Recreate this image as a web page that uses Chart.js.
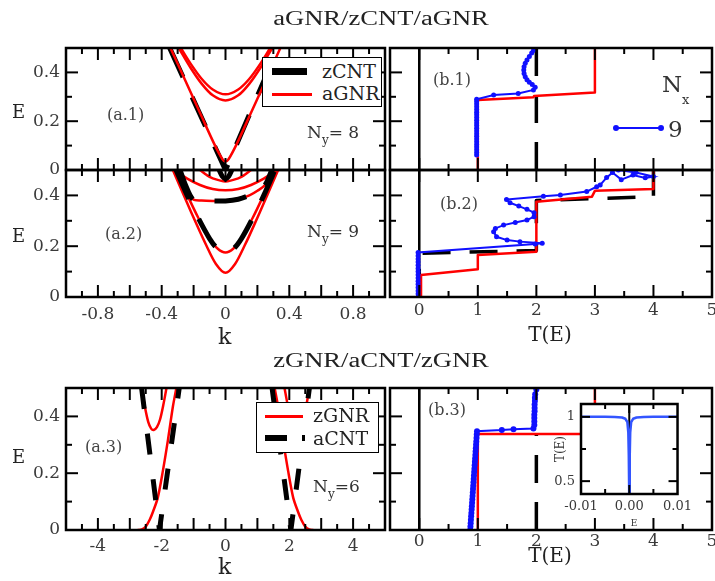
<!DOCTYPE html>
<html><head><meta charset="utf-8">
<script src="https://cdn.jsdelivr.net/npm/chart.js@4/dist/chart.umd.min.js"></script>
<style>
html,body{margin:0;padding:0;background:#fff;}
#page{position:relative;width:715px;height:581px;overflow:hidden;background:#fff;}
canvas{position:absolute;}
.t{position:absolute;white-space:nowrap;line-height:1;color:#222;font-family:'DejaVu Serif',serif;}
.box{position:absolute;box-sizing:border-box;border:1.5px solid #000;background:#fff;}
.sw{position:absolute;}
</style></head><body><div id="page"></div>
<script>
// ================= DATA =================
const kLabelsTop = ['-0.8','-0.4','0','0.4','0.8'];
const kLabelsBot = ['-4','-2','0','2','4'];
const tLabels = ['0','1','2','3','4','5'];
const eLabels = ['0','0.2','0.4'];
const insetELabels = ['-0.01','0.00','0.01'];
const insetTLabels = ['0.5','1'];

// (a.1) Ny = 8
const a1_zcnt_k = [-0.35, 0, 0.33];
const a1_zcnt_E = [0.5, 0, 0.5];
const a1_agnr1_k = [-0.345,-0.25,-0.15,-0.07,-0.02,0,0.02,0.07,0.15,0.25,0.344];
const a1_agnr1_E = [0.5,0.364,0.22,0.106,0.045,0.035,0.045,0.106,0.22,0.364,0.5];
const a1_agnr2_k = [-0.28,-0.22,-0.15,-0.08,0,0.08,0.15,0.22,0.28];
const a1_agnr2_E = [0.5,0.437,0.374,0.33,0.31,0.33,0.374,0.437,0.5];
const a1_agnr3_k = [-0.293,-0.22,-0.15,-0.08,0,0.08,0.15,0.22,0.293];
const a1_agnr3_E = [0.5,0.42,0.354,0.306,0.285,0.306,0.354,0.42,0.5];

// (a.2) Ny = 9
const a2_agnr1_k = [-0.33,-0.25,-0.18,-0.12,-0.06,0,0.06,0.12,0.18,0.25,0.33];
const a2_agnr1_E = [0.5,0.384,0.284,0.2025,0.13,0.095,0.13,0.2025,0.284,0.384,0.5];
const a2_agnr2_k = [-0.31,-0.24,-0.17,-0.1,-0.05,0,0.05,0.1,0.17,0.24,0.31];
const a2_agnr2_E = [0.5,0.402,0.311,0.231,0.191,0.175,0.191,0.231,0.311,0.402,0.5];
const a2_agnr3_k = [-0.285,-0.25,-0.205,-0.15,-0.08,0,0.08,0.15,0.2,0.25,0.29];
const a2_agnr3_E = [0.5,0.44,0.385,0.38,0.378,0.378,0.385,0.4,0.418,0.443,0.5];
const a2_agnr4_k = [-0.32,-0.24,-0.16,-0.08,0,0.08,0.16,0.24,0.32];
const a2_agnr4_E = [0.5,0.466,0.441,0.425,0.42,0.425,0.441,0.466,0.5];
const a2_agnr5_k = [-0.16,-0.12,-0.08,0,0.08,0.12,0.16];
const a2_agnr5_E = [0.5,0.481,0.467,0.455,0.467,0.481,0.5];
const a2_zcnt1_k = [-0.31,-0.24,-0.17,-0.1,-0.05,0,0.05,0.1,0.17,0.24,0.31];
const a2_zcnt1_E = [0.5,0.4,0.31,0.23,0.19,0.178,0.19,0.23,0.31,0.4,0.5];
const a2_zcnt2_k = [-0.285,-0.25,-0.205,-0.15,-0.08,0,0.08,0.15,0.2,0.25,0.29];
const a2_zcnt2_E = [0.5,0.44,0.385,0.38,0.378,0.378,0.385,0.4,0.418,0.443,0.5];
const a2_zcnt3_k = [-0.04,-0.02,0,0.02,0.04];
const a2_zcnt3_E = [0.5,0.475,0.465,0.475,0.5];

// (a.3) Ny = 6
const a3_acntL_k = [-2.63,-2.07,-1.45];
const a3_acntL_E = [0.5,0,0.5];
const a3_acntR_k = [1.46,2.05,2.63];
const a3_acntR_E = [0.5,0,0.5];
const a3_zgnrLlow_k = [-2.75,-2.62,-2.5,-2.38,-2.27,-2.12,-1.96,-1.8,-1.65,-1.54];
const a3_zgnrLlow_E = [0,0.002,0.012,0.035,0.065,0.115,0.21,0.32,0.434,0.5];
const a3_zgnrLup_k = [-2.63,-2.52,-2.42,-2.33,-2.25,-2.15,-2.05,-1.95,-1.85];
const a3_zgnrLup_E = [0.5,0.43,0.38,0.357,0.352,0.362,0.39,0.44,0.5];
const a3_zgnrRlow_k = [2.75,2.62,2.5,2.38,2.27,2.12,1.96,1.8,1.65,1.54];
const a3_zgnrRlow_E = [0,0.002,0.012,0.035,0.065,0.115,0.21,0.32,0.434,0.5];
const a3_zgnrRup_k = [2.63,2.52,2.42,2.33,2.25,2.15,2.05,1.95,1.85];
const a3_zgnrRup_E = [0.5,0.43,0.38,0.357,0.352,0.362,0.39,0.44,0.5];

// (b.1) Nx = 9
const b1_red_T = [1,1,1.95,1.96,3,3];
const b1_red_E = [0,0.287,0.298,0.303,0.318,0.5];
const b1_blk_T = [2,2];
const b1_blk_E = [0,0.5];
const b1_blue_T = [0.98,0.98,0.98,0.98,0.98,0.98,0.98,0.98,0.98,0.98,0.98,0.98,0.98,0.98,0.98,0.98,0.98,0.98,0.98,0.98,0.98,0.98,
  1.27,1.69,1.95,1.98,1.93,1.88,1.84,1.81,1.79,1.785,1.79,1.81,1.84,1.88,1.92,1.95,1.97];
const b1_blue_E = [0.061,0.072,0.083,0.094,0.105,0.116,0.127,0.138,0.149,0.16,0.171,0.182,0.193,0.204,0.215,0.226,0.237,0.248,0.259,0.27,0.281,0.29,
  0.307,0.314,0.328,0.339,0.35,0.36,0.37,0.382,0.395,0.41,0.423,0.437,0.451,0.465,0.479,0.49,0.5];

// (b.2)
const b2_red_T = [0.03,0.03,1,1,2,2,2.95,3.0,4,4];
const b2_red_E = [0,0.087,0.109,0.165,0.178,0.375,0.395,0.418,0.425,0.5];
const b2_blk_T = [0,0,2,2,4,4];
const b2_blk_E = [0,0.172,0.183,0.38,0.395,0.5];
const b2_blue_T = [-0.02,-0.02,-0.02,-0.02,-0.02,-0.02,-0.02,-0.02,-0.02,-0.02,-0.02,-0.02,-0.02,-0.02,-0.02,
  1.98,2.1,1.72,1.5,1.32,1.27,1.3,1.44,1.64,1.84,1.96,1.96,1.84,1.7,1.55,1.49,2.12,2.41,2.86,3.03,3.09,3.2,3.3,3.45,3.65,3.86,4.0,3.7,3.4];
const b2_blue_E = [0,0.0125,0.025,0.0375,0.05,0.0625,0.075,0.0875,0.1,0.1125,0.125,0.1375,0.15,0.1625,0.175,
  0.209,0.212,0.218,0.224,0.237,0.257,0.27,0.283,0.293,0.303,0.316,0.332,0.345,0.358,0.371,0.384,0.397,0.402,0.415,0.434,0.441,0.47,0.49,0.462,0.48,0.469,0.474,0.49,0.5];

// (b.3)
const b3_red_T = [1,1,3,3];
const b3_red_E = [0,0.338,0.338,0.5];
const b3_blk_T = [2,2];
const b3_blk_E = [0,0.335];
const b3_blue_T = [0.87,0.874,0.878,0.882,0.886,0.89,0.894,0.898,0.902,0.906,0.91,0.914,0.918,0.922,0.926,0.93,0.934,0.938,0.942,0.946,0.95,0.954,0.958,0.962,0.966,0.97,0.974,0.978,0.982,0.986,
  1.41,1.61,1.95,1.965,1.965,1.965,1.965,1.97,1.97,1.97,1.975,1.975,1.98,2.0,2.08];
const b3_blue_E = [0,0.012,0.024,0.036,0.048,0.06,0.072,0.084,0.096,0.108,0.12,0.132,0.144,0.156,0.168,0.18,0.192,0.204,0.216,0.228,0.24,0.252,0.264,0.276,0.288,0.3,0.312,0.324,0.336,0.348,
  0.352,0.355,0.357,0.37,0.382,0.394,0.406,0.418,0.43,0.442,0.454,0.466,0.478,0.495,0.51];

// inset of (b.3)
const in_E = [-0.01,-0.005,-0.003,-0.0015,-0.0008,-0.0004,-0.0002,-0.0001,0,0.0001,0.0002,0.0004,0.0008,0.0015,0.003,0.005,0.01];
const in_T = [1.0,1.0,0.999,0.995,0.985,0.96,0.88,0.7,0.35,0.7,0.88,0.96,0.985,0.995,0.999,1.0,1.0];

// ================= DRAWING =================
const page = document.getElementById('page');
const SERIF = "'DejaVu Serif', serif";
const RED = '#ff0000', BLUE = '#1010ff', BLACK = '#000000';

function pts(xs, ys){ return xs.map((x,i)=>({x:x, y:ys[i]})); }
function curve(xs, ys, color, w, dash, tension){
  return {data:pts(xs,ys), showLine:true, borderColor:color, backgroundColor:color, borderWidth:w,
    borderDash:dash||[], pointRadius:0, tension:tension||0, clip:0, fill:false, borderJoinStyle:'round'};
}
function marked(xs, ys, color, w, r){
  return {data:pts(xs,ys), showLine:true, borderColor:color, backgroundColor:color, borderWidth:w,
    pointRadius:r, pointBorderWidth:0, pointBackgroundColor:color, tension:0, clip:0, fill:false};
}

const framePlugin = {
  id:'frame',
  beforeDatasetsDraw(chart, args, o){
    const {ctx, chartArea:a, scales} = chart;
    ctx.save();
    if (o.fillWhite){ ctx.fillStyle='#fff'; ctx.fillRect(a.left,a.top,a.right-a.left,a.bottom-a.top); }
    if (o.zeroX){
      const px = scales.x.getPixelForValue(0);
      ctx.strokeStyle='#000'; ctx.lineWidth=o.zeroW||2.5;
      ctx.beginPath(); ctx.moveTo(px,a.top); ctx.lineTo(px,a.bottom); ctx.stroke();
    }
    ctx.restore();
  },
  afterDatasetsDraw(chart, args, o){
    const {ctx, chartArea:a, scales:{x,y}} = chart;
    ctx.save();
    ctx.setLineDash([]);
    ctx.strokeStyle='#000'; ctx.lineWidth=o.tickW||2;
    const seg=(x1,y1,x2,y2)=>{ctx.beginPath();ctx.moveTo(x1,y1);ctx.lineTo(x2,y2);ctx.stroke();};
    const xt=(vals,len)=>vals.forEach(v=>{const p=x.getPixelForValue(v); seg(p,a.bottom,p,a.bottom-len); seg(p,a.top,p,a.top+len);});
    const yt=(vals,len)=>vals.forEach(v=>{const p=y.getPixelForValue(v); seg(a.left,p,a.left+len,p); seg(a.right,p,a.right-len,p);});
    xt(o.xMajor||[], o.majorLen); xt(o.xMinor||[], o.minorLen);
    yt(o.yMajor||[], o.majorLen); yt(o.yMinor||[], o.minorLen);
    ctx.lineWidth=o.borderW||2.5;
    ctx.strokeRect(a.left,a.top,a.right-a.left,a.bottom-a.top);
    ctx.restore();
  }
};

function axis(labels, min, max, pad, size, show, fixed, horiz){
  return {
    type:'linear', min:min, max:max, display:true,
    grid:{display:false, drawTicks:false}, border:{display:false},
    ticks:{display:show, padding:pad, autoSkip:false, maxRotation:0, minRotation:0, color:'#3a3a3a',
      font:{family:SERIF, size:size}, callback:(v,i)=>labels[i]},
    afterBuildTicks:s=>{ s.ticks = labels.map(l=>({value:parseFloat(l)})); },
    afterFit:s=>{ if (horiz) s.height = fixed; else s.width = fixed; }
  };
}

function panel(g){
  const pl=g.pl||70, pt=g.pt||30, pr=g.pr||14, pb=g.pb||50;
  const W=g.R-g.L+pl+pr, H=g.B-g.T+pt+pb;
  const c=document.createElement('canvas');
  c.width=W; c.height=H;
  c.style.left=(g.L-pl)+'px'; c.style.top=(g.T-pt)+'px';
  c.style.width=W+'px'; c.style.height=H+'px';
  page.appendChild(c);
  const yW = g.yShow ? (g.yW||60) : 0;
  const xH = g.xShow ? (g.xH||40) : 0;
  new Chart(c, {
    type:'scatter',
    data:{datasets:g.datasets},
    options:{
      responsive:false, animation:false, events:[], devicePixelRatio:1,
      layout:{padding:{left:pl-yW, top:pt, right:pr, bottom:pb-xH}},
      plugins:{legend:{display:false}, tooltip:{enabled:false}, title:{display:false}, frame:g.frame},
      scales:{
        x:axis(g.xLabels, g.xMin, g.xMax, g.xPad, g.font||17, !!g.xShow, xH, true),
        y:axis(g.yLabels, g.yMin, g.yMax, g.yPad, g.font||17, !!g.yShow, yW, false)
      }
    },
    plugins:[framePlugin]
  });
}

const kMajA=[-0.8,-0.6,-0.4,-0.2,0,0.2,0.4,0.6,0.8], kMinA=[-0.9,-0.7,-0.5,-0.3,-0.1,0.1,0.3,0.5,0.7,0.9];
const kMajC=[-4,-3,-2,-1,0,1,2,3,4], kMinC=[-4.5,-3.5,-2.5,-1.5,-0.5,0.5,1.5,2.5,3.5,4.5];
const tMaj=[0,1,2,3,4], tMin=[0.5,1.5,2.5,3.5,4.5];
const eMaj=[0.2,0.4], eMin=[0.1,0.3];
const fA={xMajor:kMajA,xMinor:kMinA,yMajor:eMaj,yMinor:eMin,majorLen:12,minorLen:6};
const fC={xMajor:kMajC,xMinor:kMinC,yMajor:eMaj,yMinor:eMin,majorLen:12,minorLen:6};
const fB={xMajor:tMaj,xMinor:tMin,yMajor:eMaj,yMinor:eMin,majorLen:12,minorLen:6,zeroX:true};

const dA=[32,22], dB=[28,19], dC=[21,25];

panel({L:66,R:385,T:48,B:170,xMin:-1,xMax:1,yMin:0,yMax:0.5,xLabels:kLabelsTop,yLabels:eLabels,
  xShow:false,yShow:true,xPad:7,yPad:6,frame:fA,
  datasets:[
    curve(a1_agnr1_k,a1_agnr1_E,RED,2.5,null,0.3),
    curve(a1_agnr2_k,a1_agnr2_E,RED,2.5,null,0.3),
    curve(a1_agnr3_k,a1_agnr3_E,RED,2.5,null,0.3),
    curve(a1_zcnt_k,a1_zcnt_E,BLACK,5,dA,0)
  ]});
panel({L:66,R:385,T:170,B:297,xMin:-1,xMax:1,yMin:0,yMax:0.5,xLabels:kLabelsTop,yLabels:eLabels,
  xShow:true,yShow:true,xPad:7,yPad:6,frame:fA,
  datasets:[
    curve(a2_zcnt1_k,a2_zcnt1_E,BLACK,5,dA,0.3),
    curve(a2_zcnt2_k,a2_zcnt2_E,BLACK,5,dA,0.3),
    curve(a2_zcnt3_k,a2_zcnt3_E,BLACK,5,dA,0.3),
    curve(a2_agnr1_k,a2_agnr1_E,RED,2.5,null,0.3),
    curve(a2_agnr2_k,a2_agnr2_E,RED,2.5,null,0.3),
    curve(a2_agnr3_k,a2_agnr3_E,RED,2.5,null,0.3),
    curve(a2_agnr4_k,a2_agnr4_E,RED,2.5,null,0.3),
    curve(a2_agnr5_k,a2_agnr5_E,RED,2.5,null,0.3)
  ]});
panel({L:66,R:385,T:388,B:530,xMin:-5,xMax:5,yMin:0,yMax:0.5,xLabels:kLabelsBot,yLabels:eLabels,
  xShow:true,yShow:true,xPad:6,yPad:6,frame:fC,
  datasets:[
    curve(a3_acntL_k,a3_acntL_E,BLACK,5,dC,0),
    curve(a3_acntR_k,a3_acntR_E,BLACK,5,dC,0),
    curve(a3_zgnrLlow_k,a3_zgnrLlow_E,RED,2.5,null,0.3),
    curve(a3_zgnrLup_k,a3_zgnrLup_E,RED,2.5,null,0.3),
    curve(a3_zgnrRlow_k,a3_zgnrRlow_E,RED,2.5,null,0.3),
    curve(a3_zgnrRup_k,a3_zgnrRup_E,RED,2.5,null,0.3)
  ]});
panel({L:390,R:712,T:48,B:170,xMin:-0.5,xMax:5,yMin:0,yMax:0.5,xLabels:tLabels,yLabels:[],
  xShow:false,yShow:false,xPad:3,yPad:6,frame:fB,
  datasets:[
    marked(b1_blue_T,b1_blue_E,BLUE,2,2.5),
    curve(b1_red_T,b1_red_E,RED,2.5,null,0),
    curve(b1_blk_T,b1_blk_E,BLACK,3.5,dB,0)
  ]});
panel({L:390,R:712,T:170,B:297,xMin:-0.5,xMax:5,yMin:0,yMax:0.5,xLabels:tLabels,yLabels:[],
  xShow:true,yShow:false,xPad:3,yPad:6,frame:fB,
  datasets:[
    marked(b2_blue_T,b2_blue_E,BLUE,2,2.5),
    curve(b2_red_T,b2_red_E,RED,2.5,null,0),
    curve(b2_blk_T,b2_blk_E,BLACK,3.5,dB,0)
  ]});
panel({L:390,R:712,T:388,B:530,xMin:-0.5,xMax:5,yMin:0,yMax:0.5,xLabels:tLabels,yLabels:[],
  xShow:true,yShow:false,xPad:1,yPad:6,frame:fB,
  datasets:[
    marked(b3_blue_T,b3_blue_E,BLUE,2,3),
    curve(b3_red_T,b3_red_E,RED,2.5,null,0),
    curve(b3_blk_T,b3_blk_E,BLACK,3.5,dB,0)
  ]});
panel({L:581,R:687,T:404,B:494,pl:45,pt:24,pr:10,pb:32,yW:40,xH:28,font:13,
  xMin:-0.01,xMax:0.01,yMin:0.4,yMax:1.1,xLabels:insetELabels,yLabels:insetTLabels,
  xShow:true,yShow:true,xPad:5,yPad:6,
  frame:{xMajor:[0],xMinor:[-0.005,0.005],yMajor:[0.5,1],yMinor:[0.75],majorLen:9,minorLen:5,zeroX:true,zeroW:2,fillWhite:true,borderW:2.5},
  datasets:[ curve(in_E,in_T,'#3355ff',2.5,null,0) ]});

// ================= TEXT =================
function txt(html, x, base, size, opt){
  opt = opt||{};
  const d=document.createElement('div');
  d.className='t'; d.innerHTML=html;
  const asc = opt.asc || 0.846;
  if (opt.family) d.style.fontFamily=opt.family;
  d.style.fontSize=size+'px';
  d.style.left=x+'px';
  d.style.top=(base-asc*size)+'px';
  if (opt.color) d.style.color=opt.color;
  let tf='';
  if (opt.center) tf+='translateX(-50%) ';
  if (opt.sx) tf+='scaleX('+opt.sx+')';
  if (tf){ d.style.transform=tf; d.style.transformOrigin=opt.center?'center':'left'; }
  page.appendChild(d);
  return d;
}
function rect(cls, x, y, w, h, bg){
  const d=document.createElement('div'); d.className=cls;
  d.style.left=x+'px'; d.style.top=y+'px'; d.style.width=w+'px'; d.style.height=h+'px';
  if (bg) d.style.background=bg;
  page.appendChild(d); return d;
}
const LIB="'Liberation Serif', serif";
txt('aGNR/zCNT/aGNR', 381, 25, 20, {family:LIB, asc:0.8375, center:true, sx:1.33});
txt('zGNR/aCNT/zGNR', 381, 367, 20, {family:LIB, asc:0.8375, center:true, sx:1.33});

txt('E', 12, 118, 18); txt('E', 12, 242, 18); txt('E', 12, 463, 18);
txt('k', 218, 345, 22); txt('k', 218, 575, 22);
txt('T(E)', 550, 341, 20, {center:true}); txt('T(E)', 550, 562, 20, {center:true});

const PL={color:'#444'};
txt('(a.1)', 107, 121, 16, PL); txt('(a.2)', 105, 240, 16, PL); txt('(a.3)', 85, 453, 16, PL);
txt('(b.1)', 433, 86, 16, PL); txt('(b.2)', 440, 210, 16, PL); txt('(b.3)', 428, 416, 16, PL);

const SUB = s => '<span style="font-size:12px;position:relative;top:6px">'+s+'</span>';
txt('N'+SUB('y')+'= 8', 307, 138, 17, {color:'#333'});
txt('N'+SUB('y')+'= 9', 307, 237, 17, {color:'#333'});
txt('N'+SUB('y')+'=6', 313, 492, 17, {color:'#333'});

txt('N', 662, 92, 23, {color:'#333'});
txt('x', 682, 104, 13, {color:'#333'});
rect('sw', 616, 127, 45, 2, BLUE);
const dot1=rect('sw', 613, 125, 6, 6, BLUE); dot1.style.borderRadius='50%';
const dot2=rect('sw', 658, 125, 6, 6, BLUE); dot2.style.borderRadius='50%';
txt('9', 668, 137, 23, {color:'#333'});

rect('box', 262, 57, 120, 50);
rect('sw', 272, 67.5, 35, 7, BLACK);
txt('zCNT', 322, 78, 19);
rect('sw', 272, 93, 40, 2.5, RED);
txt('aGNR', 322, 100, 19);

rect('box', 256, 402, 123, 51);
rect('sw', 265, 415, 38, 2.5, RED);
txt('zGNR', 313, 422, 19);
rect('sw', 265, 435, 22, 6, BLACK);
rect('sw', 302, 435, 3, 6, BLACK);
txt('aCNT', 313, 445, 19);

const it=txt('T(E)', 560, 449, 12, {color:'#333'});
it.style.top='449px'; it.style.transform='translate(-50%,-50%) rotate(-90deg)'; it.style.transformOrigin='center';
txt('E', 634, 527, 9, {center:true, color:'#333'});
</script>
</body></html>
